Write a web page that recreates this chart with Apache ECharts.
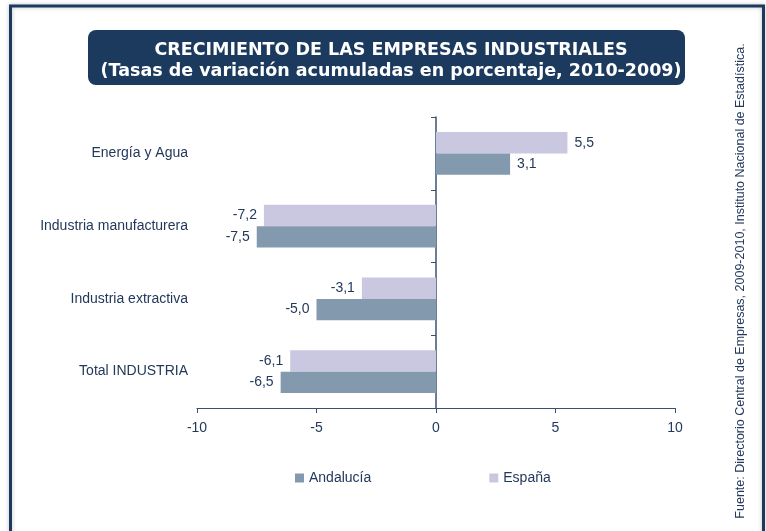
<!DOCTYPE html>
<html>
<head>
<meta charset="utf-8">
<script src="https://cdn.jsdelivr.net/npm/echarts@6/dist/echarts.min.js"></script>
<style>
  html, body { margin: 0; padding: 0; background: #fff; }
  #chart { width: 766px; height: 531px; }
</style>
</head>
<body>
<div id="chart"></div>
<script>
// categories from bottom to top (ECharts draws the first category at the bottom)
const categories = ["Total INDUSTRIA", "Industria extractiva", "Industria manufacturera", "Energía y Agua"];
const andalucia = [-6.5, -5.0, -7.5, 3.1];
const espana = [-6.1, -3.1, -7.2, 5.5];
const xTicks = [-10, -5, 0, 5, 10];

const navy = "#1b3a5e";
const textColor = "#23395b";
const fontFamily = "'Liberation Sans', Arial, sans-serif";

// etiquetas a la izquierda para valores negativos
const toItems = (arr) =>
  arr.map((v) => ({
    value: v,
    label: { position: v < 0 ? "left" : "right" },
  }));

const fmt = (v) => v.toFixed(1).replace(".", ",");

const chart = echarts.init(document.getElementById("chart"));

const barLabel = {
  show: true,
  distance: 7,
  color: textColor,
  fontSize: 14,
  formatter: (p) => fmt(p.value),
};

const option = {
  backgroundColor: "#fff",
  animation: false,
  textStyle: { fontFamily: fontFamily },
  title: {
    text: "CRECIMIENTO DE LAS EMPRESAS INDUSTRIALES\n(Tasas de variación acumuladas en porcentaje, 2010-2009)",
    left: 386,
    top: 35,
    textAlign: "center",
    textStyle: {
      color: "#fff",
      fontSize: 17.5,
      fontWeight: "bold",
      lineHeight: 21,
      fontFamily: "'DejaVu Sans', 'Liberation Sans', sans-serif",
    },
    z: 10,
  },
  graphic: [
    {
      type: "rect",
      shape: { x: 10.5, y: 6, width: 753, height: 600 },
      style: {
        fill: null,
        stroke: navy,
        lineWidth: 3,
        shadowBlur: 4,
        shadowColor: "rgba(0,0,0,0.25)",
      },
      silent: true,
    },
    {
      type: "rect",
      shape: { x: 88, y: 30, width: 597, height: 55, r: 8 },
      style: { fill: navy },
      z: 5,
      silent: true,
    },
    {
      type: "text",
      x: 741,
      y: 281,
      rotation: Math.PI / 2,
      style: {
        text: "Fuente: Directorio Central de Empresas, 2009-2010, Instituto Nacional de Estadística.",
        fill: textColor,
        font: "12.5px " + fontFamily,
        align: "center",
        verticalAlign: "middle",
      },
    },
  ],
  legend: {
    data: ["Andalucía", "España"],
    left: 290,
    top: 466,
    icon: "rect",
    itemWidth: 9,
    itemHeight: 9,
    itemGap: 118,
    textStyle: { color: textColor, fontSize: 14, fontFamily: fontFamily },
  },
  grid: { left: 197, right: 91, top: 117, bottom: 123, containLabel: false },
  xAxis: {
    type: "value",
    min: xTicks[0],
    max: xTicks[xTicks.length - 1],
    interval: 5,
    splitLine: { show: false },
    axisLine: { show: true, lineStyle: { color: "#3a5272", width: 1 } },
    axisTick: { show: true, length: 5, lineStyle: { color: "#3a5272" } },
    axisLabel: { color: textColor, fontSize: 14, margin: 13 },
  },
  yAxis: [
    {
      type: "category",
      data: categories,
      axisLine: { show: false, onZero: false },
      axisTick: { show: false },
      axisLabel: { color: textColor, fontSize: 14, margin: 9, padding: [4, 0, 0, 0] },
    },
    {
      type: "category",
      data: categories,
      position: "left",
      axisLine: { show: true, onZero: true, lineStyle: { color: "#3a5272", width: 1.5 } },
      axisTick: { show: true, length: 5, lineStyle: { color: "#3a5272" } },
      axisLabel: { show: false },
    },
  ],
  // España primero: ECharts coloca la primera serie arriba dentro de cada categoría
  series: [
    {
      name: "España",
      type: "bar",
      yAxisIndex: 0,
      data: toItems(espana),
      itemStyle: { color: "#cac8e0" },
      barGap: "0%",
      barCategoryGap: "41%",
      label: barLabel,
    },
    {
      name: "Andalucía",
      type: "bar",
      yAxisIndex: 0,
      data: toItems(andalucia),
      itemStyle: { color: "#8399ae" },
      barGap: "0%",
      barCategoryGap: "41%",
      label: barLabel,
    },
  ],
};

option && chart.setOption(option);
</script>
</body>
</html>
